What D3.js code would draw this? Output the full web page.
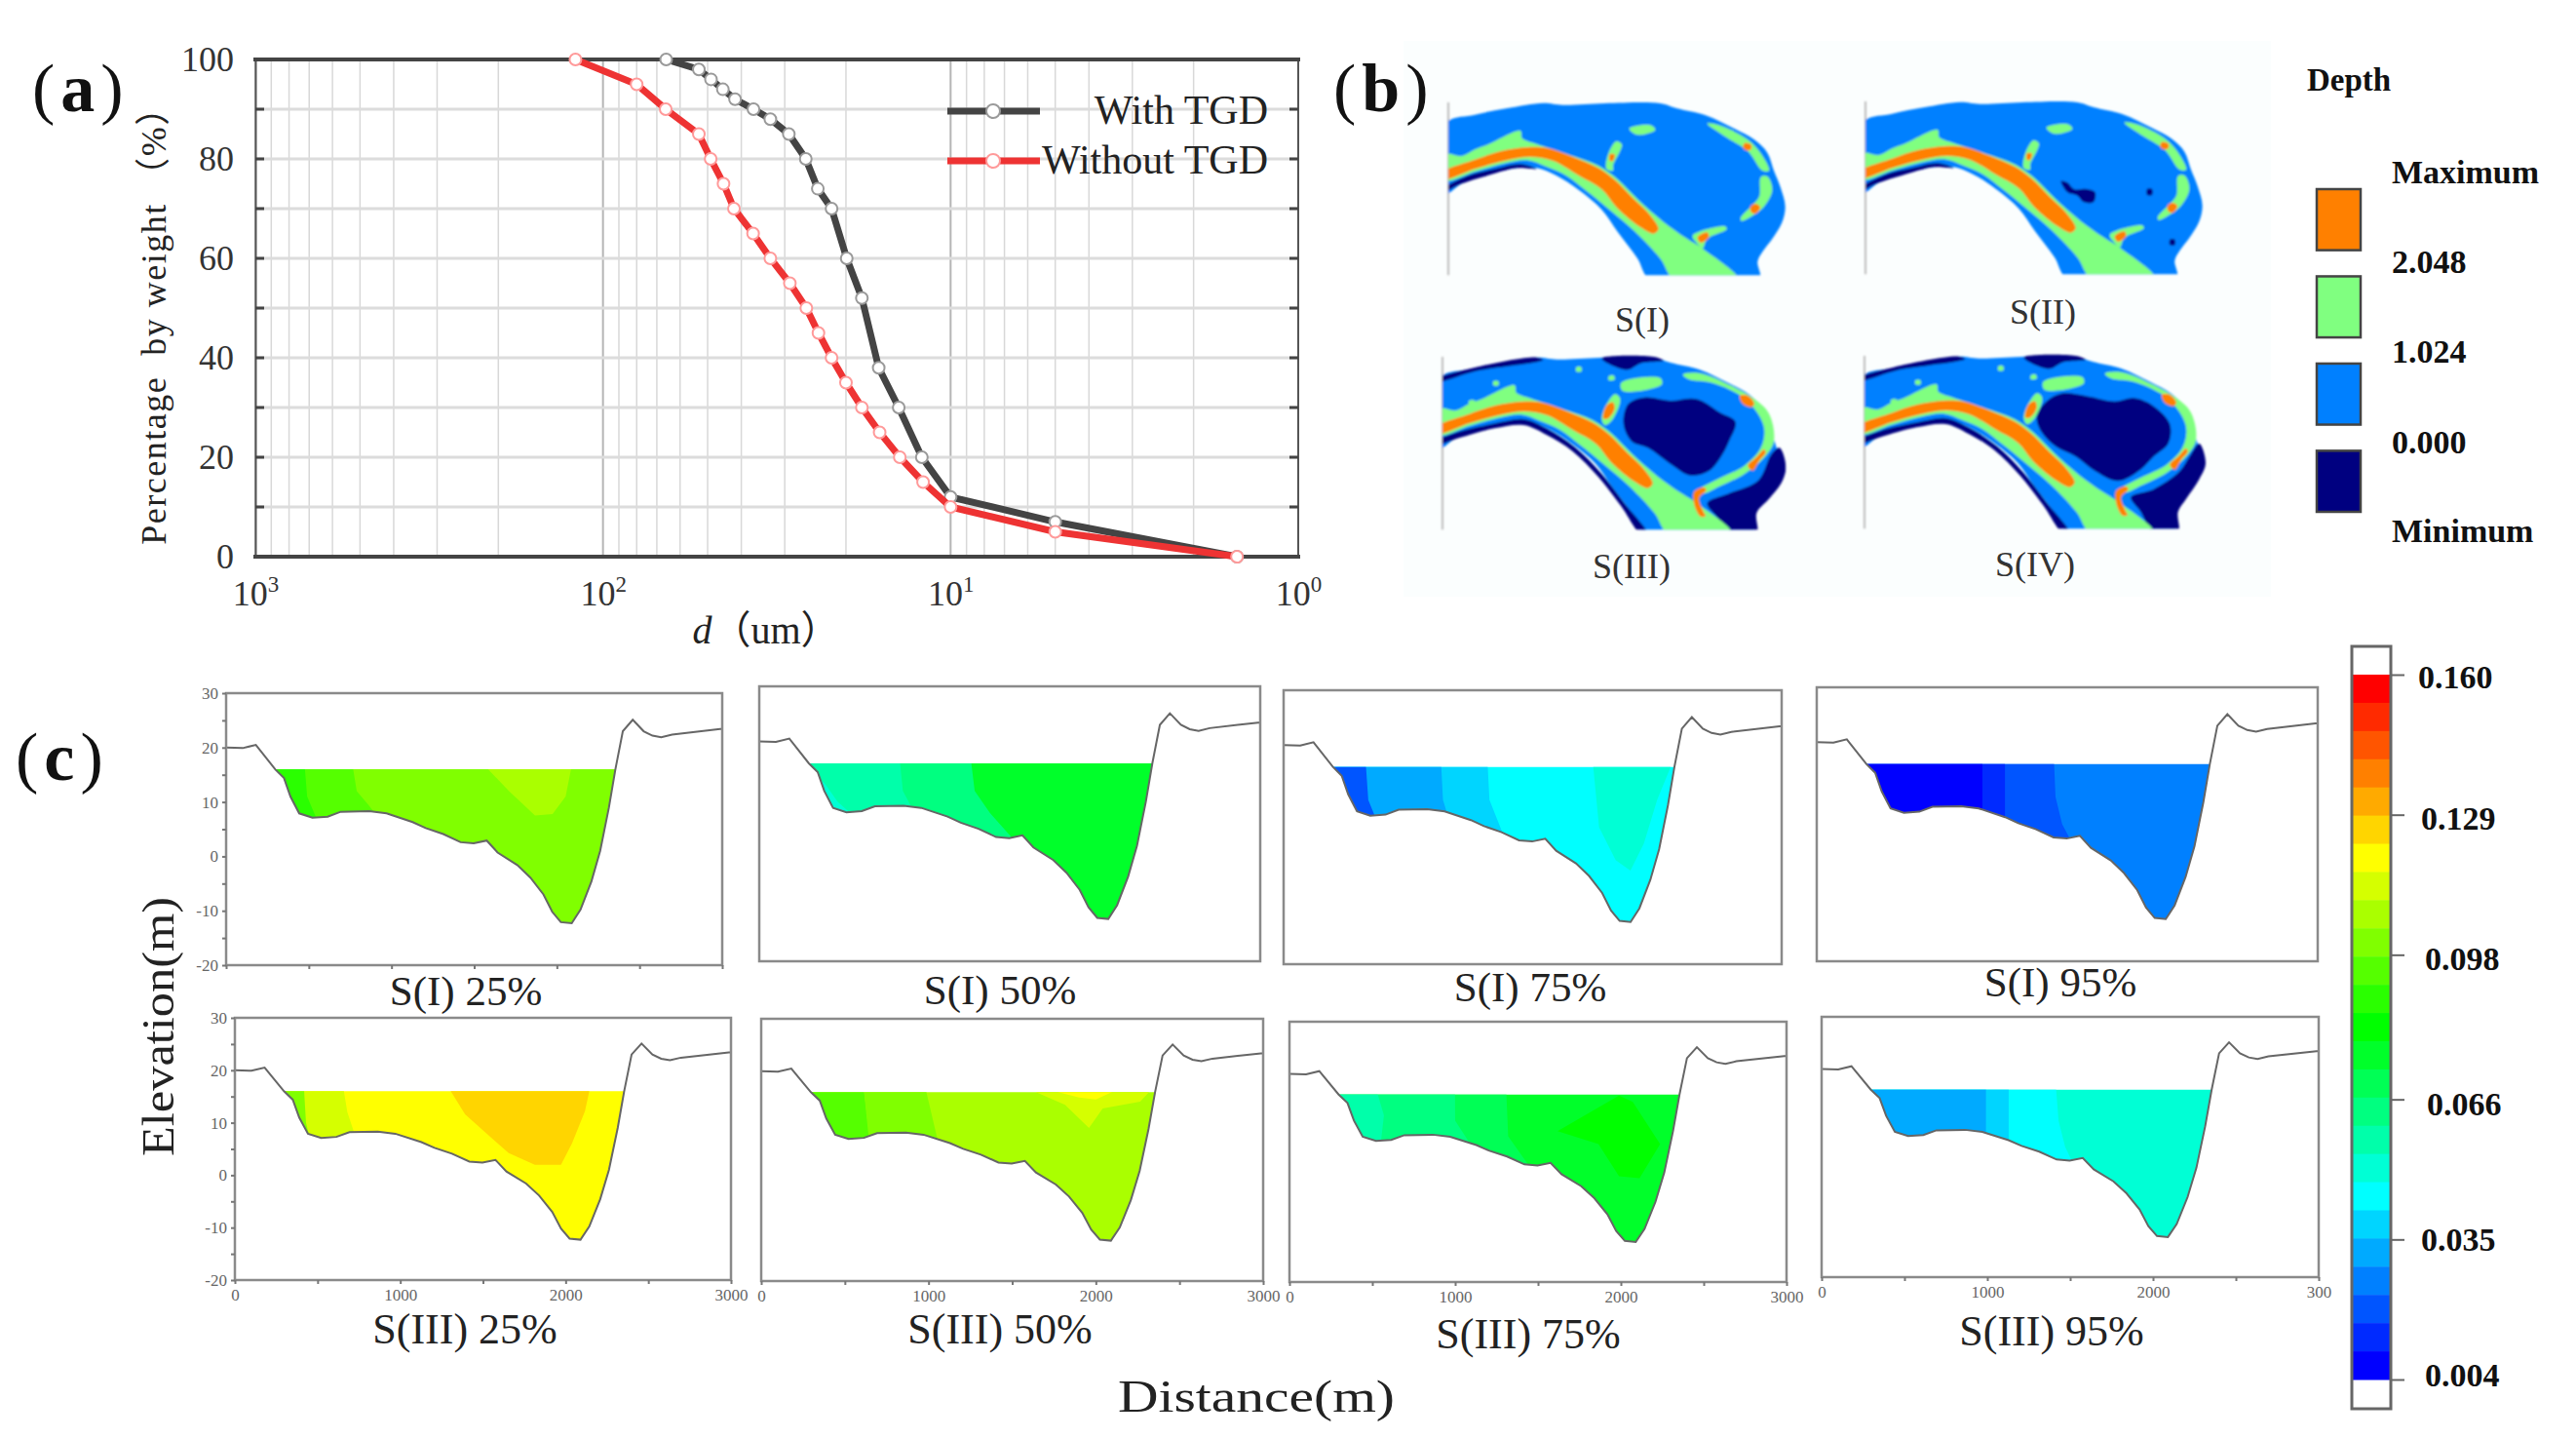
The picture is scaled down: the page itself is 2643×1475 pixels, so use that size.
<!DOCTYPE html>
<html>
<head>
<meta charset="utf-8">
<script src="https://cdn.jsdelivr.net/npm/d3@7"></script>
<style>
  html, body { margin: 0; padding: 0; background: #fff; }
  svg { display: block; }
  text { font-family: "Liberation Serif", "Noto Sans CJK SC", serif; }
</style>
</head>
<body>
<svg width="2643" height="1475" viewBox="0 0 2643 1475"></svg>
<script>
// ---- (a) grading curves: [d in um, percentage]
const withTGD = [[65.8,100],[53,98],[48.9,96],[45.2,94],[41.7,92],[36.9,90],[33,88],[29.2,85],[26.1,80],[24.1,74],[22,70],[19.9,60],[18,52],[16.1,38],[14.1,30],[12.1,20],[10,12],[5,7],[1.5,0]];
const withoutTGD = [[120,100],[80,95],[66,90],[53,85],[49,80],[45,75],[42,70],[37,65],[33,60],[29,55],[26,50],[24,45],[22,40],[20,35],[18,30],[16,25],[14,20],[12,15],[10,10],[5,5],[1.5,0]];
const percentTicks = [0,20,40,60,80,100];
const percentGrid = [10,20,30,40,50,60,70,80,90];
const decadeTicks = [1000,100,10,1];
const decadeExp = ['3','2','1','0'];
const legendNames = ['With TGD','Without TGD'];

// ---- (b) depth maps, outlines in map units (0-1080 x 0-585)
const riverOutline = [[10,95],[100,68],[200,48],[310,32],[370,38],[500,33],[670,33],[720,48],[810,70],[900,112],[960,145],[1000,185],[1020,240],[1040,290],[1055,350],[1045,400],[1015,450],[985,490],[970,520],[975,575],[640,575],[600,510],[540,430],[490,360],[420,300],[350,255],[290,232],[230,232],[130,255],[60,280],[10,310]];
const mainGreen = [[5,190],[60,195],[100,175],[140,160],[240,118],[245,140],[290,158],[380,188],[480,225],[540,268],[600,328],[680,398],[750,448],[800,480],[910,575],[715,575],[670,510],[590,425],[520,365],[440,300],[380,255],[320,228],[260,208],[190,218],[100,243],[5,270]];
const mainOrange = [[5,244],[100,206],[180,180],[260,168],[320,170],[400,197],[480,232],[530,268],[580,318],[640,378],[665,420],[650,434],[610,415],[540,358],[490,298],[420,256],[340,210],[270,198],[190,210],[100,235],[5,266]];
const bankStrip = [[10,292],[80,255],[160,235],[240,220],[290,235],[230,232],[130,258],[60,280],[10,302]];
const barsGreen = [
  [[575,110],[640,100],[655,115],[600,130]],
  [[535,150],[552,160],[525,225],[525,240],[505,235],[510,190]],
  [[815,95],[850,100],[940,145],[985,195],[1005,240],[985,240],[940,180],[870,135]],
  [[980,260],[1000,258],[1015,300],[990,350],[960,375],[920,395],[918,385],[950,350],[975,320]],
  [[770,440],[870,412],[875,420],[815,450],[800,480],[780,460]]
];
const barsOrange = [
  [[515,190],[530,190],[525,210],[515,210]],
  [[930,155],[950,160],[950,175],[935,178],[925,168]],
  [[948,350],[965,342],[978,352],[965,372],[950,368]],
  [[785,445],[815,430],[820,445],[795,462]]
];
const holesII = [
  [[620,275],[640,280],[660,300],[700,300],[725,310],[720,340],[690,340],[670,320],[640,310]],
  [[885,300],[900,300],[900,318],[885,318]],
  [[955,455],[970,455],[970,472],[955,472]]
];
const arcGreen = [[758,85],[808,80],[908,120],[978,160],[1023,205],[1038,290],[1008,340],[948,390],[868,430],[823,450],[808,440],[868,405],[948,365],[998,310],[1008,250],[978,190],[928,145],[848,110],[778,100]];
const poolIII = [[575,235],[590,175],[640,155],[720,165],[800,160],[870,200],[920,230],[900,290],[880,330],[840,380],[780,395],[720,360],[650,310],[600,290]];
const cornerIII = [[833,480],[900,450],[990,410],[1030,330],[1055,310],[1075,370],[1060,420],[1020,470],[985,510],[985,575],[920,575],[860,520]];
const poolIV = [[548,215],[578,170],[628,145],[708,155],[788,170],[848,160],[908,185],[958,240],[953,300],[908,340],[868,380],[798,415],[728,385],[668,340],[608,310],[563,265]];
const cornerIV = [[838,465],[908,440],[988,385],[1018,340],[1048,300],[1068,360],[1048,410],[1008,470],[983,510],[983,575],[908,575],[868,510]];
const topNavy = [[508,35],[668,30],[698,42],[628,50],[588,70],[548,60]];
const topStrip = [[10,95],[108,65],[308,32],[328,40],[118,75],[10,105]];
const lowBank = [[10,285],[68,260],[178,235],[268,222],[338,250],[428,310],[508,390],[578,480],[650,575],[628,575],[568,490],[498,400],[418,320],[338,270],[268,240],[178,250],[68,280],[10,298]];
const trioOrange = [
  [[933,150],[958,150],[978,175],[968,185],[943,175]],
  [[958,365],[983,340],[1008,315],[1013,325],[993,350],[973,380]],
  [[793,445],[823,432],[830,440],[808,465],[823,510],[828,520],[813,522],[793,485]],
  [[523,180],[543,170],[548,190],[528,220],[513,220]]
];
const extraGreen = [
  [[568,110],[688,95],[693,115],[573,135]],
  [[530,165],[550,145],[565,160],[540,225],[518,240],[508,220]],
  [[430,62],[445,62],[445,75],[430,75]],
  [[530,90],[545,88],[548,100],[530,102]],
  [[175,105],[190,105],[190,118],[175,118]],
  [[100,165],[118,165],[118,178],[100,178]]
];
const mapNames = ['S(I)','S(II)','S(III)','S(IV)'];
const depthNames = ['Maximum','2.048','1.024','0.000','Minimum'];
const depthColors = ['#ff8000','#80ff80','#0080ff','#000080'];

// ---- (c) river section shared by the eight panels: [distance, elevation]
const bedProfile = [[0,20],[100,19.9],[180,20.5],[297,16],[350,14.4],[389,11],[442,7.9],[522,7.1],[614,7.3],[693,8.2],[865,8.3],[970,7.9],[1128,6.3],[1207,5.2],[1313,4.1],[1418,2.6],[1497,2.4],[1576,2.9],[1642,0.7],[1761,-1.6],[1840,-3.9],[1919,-7],[1972,-10.2],[2024,-12.1],[2090,-12.3],[2143,-9.8],[2209,-4.6],[2262,1],[2315,9],[2354,16],[2399,23],[2459,25.1],[2525,23],[2578,22.2],[2631,21.9],[2697,22.4],[2987,23.4],[3000,23.4]];
const waterLevel = 16;
const sectionNames = ['S(I) 25%','S(I) 50%','S(I) 75%','S(I) 95%','S(III) 25%','S(III) 50%','S(III) 75%','S(III) 95%'];
const concentrationBands = ['#ff0000','#ff2a00','#ff5500','#ff8000','#ffaa00','#ffd500','#ffff00','#d5ff00','#aaff00','#80ff00','#55ff00','#2aff00','#00ff00','#00ff2a','#00ff55','#00ff80','#00ffaa','#00ffd5','#00ffff','#00d5ff','#00aaff','#0080ff','#0055ff','#002aff','#0000ff'];
const concentrationTicks = [0.004,0.035,0.066,0.098,0.129,0.160];
const concentrationLabels = ['0.004','0.035','0.066','0.098','0.129','0.160'];
const sectionBase = [9,13,18,21,6,8,13,17];
// contour patches: band index and outline in [distance, elevation], clipped to the water
const sectionZones = [
  [
    {band:10, pts:[[250,17],[763,17],[790,12],[860,9.5],[950,6],[250,4]]},
    {band:11, pts:[[250,17],[474,17],[490,11],[560,6],[250,4]]},
    {band:8, pts:[[1553,17],[1711,12],[1868,7.5],[1974,7.8],[2053,11],[2092,17]]}
  ],
  [
    {band:15, pts:[[250,17],[1266,17],[1290,11],[1381,7],[1586,0],[1400,-5],[250,-5]]},
    {band:16, pts:[[250,17],[840,17],[860,11],[930,7],[250,4]]},
    {band:17, pts:[[250,17],[400,12],[470,9],[580,6],[250,4]]}
  ],
  [
    {band:19, pts:[[250,17],[1228,17],[1240,10],[1318,4],[1300,-2],[250,-2]]},
    {band:20, pts:[[250,17],[948,17],[960,10],[990,7],[250,2]]},
    {band:22, pts:[[250,17],[494,17],[510,10],[577,5],[250,3]]},
    {band:17, pts:[[1862,17],[1900,5],[2000,-1],[2089,-2.9],[2170,2],[2250,10],[2345,17]]}
  ],
  [
    {band:22, pts:[[250,17],[1420,17],[1430,10],[1470,5],[1540,1],[250,1]]},
    {band:23, pts:[[250,17],[1127,17],[1127,4],[250,4]]},
    {band:24, pts:[[250,17],[992,17],[992,4],[250,4]]}
  ],
  [
    {band:7, pts:[[250,17],[654,17],[680,12],[733,7],[250,4]]},
    {band:9, pts:[[250,17],[417,17],[430,10],[460,6],[250,4]]},
    {band:5, pts:[[1286,17],[1392,11.6],[1524,7.9],[1656,4.2],[1814,2],[1972,2],[2038,6],[2117,12.2],[2150,17]]}
  ],
  [
    {band:10, pts:[[250,17],[612,17],[653,6],[250,4]]},
    {band:9, pts:[[612,17],[980,17],[1061,6],[653,4]]},
    {band:7, pts:[[1571,17],[1816,13.6],[1959,9.2],[2041,12.9],[2265,14.2],[2347,17]]},
    {band:6, pts:[[1653,17],[1900,15],[2000,14.6],[2163,17]]}
  ],
  [
    {band:14, pts:[[250,17],[1308,17],[1320,8],[1453,2],[1000,2],[250,2]]},
    {band:15, pts:[[250,17],[999,17],[1000,11],[1122,5],[900,5],[250,5]]},
    {band:16, pts:[[250,17],[524,17],[570,12],[545,5],[250,5]]},
    {band:12, pts:[[1618,9],[1865,6.5],[1989,0.3],[2113,-0.05],[2237,6.5],[2072,14.6],[1989,15.8]]}
  ],
  [
    {band:18, pts:[[250,17],[1413,17],[1430,10],[1470,5],[1530,1],[250,1]]},
    {band:19, pts:[[250,17],[1129,17],[1129,4],[250,4]]},
    {band:20, pts:[[250,17],[992,17],[992,4],[250,4]]}
  ]
];

// ---- Layout (page pixels)
const sectionFrames = [
  [232,741,711,990],[779,1293,704,986],[1317,1828,708,989],[1864,2378,705,986],
  [241,750,1044,1313],[781,1296,1045,1314],[1323,1833,1048,1315],[1869,2379,1043,1310]
];
const sectionTitleAt = [[478,1031],[1026,1030],[1570,1027],[2114,1022],[477,1378],[1026,1378],[1568,1383],[2105,1380]];
const sectionLastTick = ['3000','3000','3000','3000','3000','3000','3000','300'];
const mapOrigin = [[1480,95],[1908,94],[1474,356],[1907,355]];
const mapTitleAt = [[1685,340],[2096,332],[1674,593],[2088,591]];

const svg = d3.select('svg');

// background of panel (b) goes under everything else
svg.append('rect').attr('x', 1440).attr('y', 42).attr('width', 890).attr('height', 570).attr('fill', '#fbfefe');

// ---- Panel letters
function panelLetter(letter, x, y) {
    const t = svg.append('text').attr('x', x).attr('y', y).attr('font-size', 70).attr('fill', '#111');
    t.append('tspan').attr('font-weight', 300).text('(');
    t.append('tspan').attr('font-weight', 'bold').attr('dx', 6).text(letter);
    t.append('tspan').attr('dx', 6).text(')');
}
panelLetter('a', 33, 114);
panelLetter('b', 1368, 114);
panelLetter('c', 16, 800);

// ---- Panel (a)
const aLeft = 262, aRight = 1332, aTop = 61, aBottom = 571;
const mapX = d3.scaleLog().domain([1000, 1]).range([aLeft, aRight]);
const mapY = d3.scaleLinear().domain([0, 100]).range([aBottom, aTop]);
const a = svg.append('g');

// grid: minor verticals at 2..9 of each decade
const minorX = [];
[100, 10, 1].forEach(dec => d3.range(2, 10).forEach(k => minorX.push(dec * k)));
a.selectAll('.minor').data(minorX).join('line')
    .attr('x1', d => mapX(d)).attr('x2', d => mapX(d))
    .attr('y1', aTop).attr('y2', aBottom)
    .attr('stroke', '#d8d8d8').attr('stroke-width', 1.5);
a.selectAll('.major').data(decadeTicks).join('line')
    .attr('x1', d => mapX(d)).attr('x2', d => mapX(d))
    .attr('y1', aTop).attr('y2', aBottom)
    .attr('stroke', '#b5b5b5').attr('stroke-width', 2);
a.selectAll('.hgrid').data(percentGrid).join('line')
    .attr('x1', aLeft).attr('x2', aRight)
    .attr('y1', d => mapY(d)).attr('y2', d => mapY(d))
    .attr('stroke', '#dcdcdc').attr('stroke-width', 3);

// axes
const axisA = a.append('g').attr('transform', `translate(${aLeft},0)`)
    .call(d3.axisLeft(mapY).tickValues(percentTicks).tickSize(0).tickPadding(22));
axisA.select('.domain').attr('stroke', '#555').attr('stroke-width', 2);
axisA.selectAll('text').attr('font-size', 36).attr('fill', '#333').style('font-family', '"Liberation Serif"');

const axisB = a.append('g').attr('transform', `translate(0,${aBottom})`)
    .call(d3.axisBottom(mapX).tickValues(decadeTicks).tickFormat(() => '10').tickSize(0).tickPadding(24));
axisB.select('.domain').attr('stroke', 'none');
axisB.selectAll('text').attr('font-size', 36).attr('fill', '#333').style('font-family', '"Liberation Serif"')
    .append('tspan').attr('font-size', 23).attr('dy', -14).text((d, i) => decadeExp[i]);

a.append('line').attr('x1', aRight).attr('x2', aRight).attr('y1', aTop).attr('y2', aBottom).attr('stroke', '#555').attr('stroke-width', 2);
[aTop, aBottom].forEach(y => a.append('line').attr('x1', aLeft - 2).attr('x2', aRight + 2).attr('y1', y).attr('y2', y).attr('stroke', '#444').attr('stroke-width', 4));
a.selectAll('.tickR').data(percentGrid).join('line')
    .attr('x1', aRight - 9).attr('x2', aRight).attr('y1', d => mapY(d)).attr('y2', d => mapY(d))
    .attr('stroke', '#444').attr('stroke-width', 3);
a.selectAll('.tickL').data(percentGrid).join('line')
    .attr('x1', aLeft).attr('x2', aLeft + 9).attr('y1', d => mapY(d)).attr('y2', d => mapY(d))
    .attr('stroke', '#444').attr('stroke-width', 3);

// curves
const curve = d3.line().x(d => mapX(d[0])).y(d => mapY(d[1]));
[[withTGD, '#444444', '#9a9a9a'], [withoutTGD, '#ee3333', '#ff9a9a']].forEach(([rows, col, ring]) => {
    a.append('path').attr('d', curve(rows)).attr('fill', 'none').attr('stroke', col).attr('stroke-width', 7);
    a.append('g').selectAll('circle').data(rows).join('circle')
        .attr('cx', d => mapX(d[0])).attr('cy', d => mapY(d[1])).attr('r', 6)
        .attr('fill', '#fff').attr('stroke', ring).attr('stroke-width', 2);
});

// legend
[[114, '#444444', '#9a9a9a'], [165, '#ee3333', '#ff9a9a']].forEach(([y, col, ring], i) => {
    a.append('line').attr('x1', 972).attr('x2', 1067).attr('y1', y).attr('y2', y).attr('stroke', col).attr('stroke-width', 7);
    a.append('circle').attr('cx', 1019).attr('cy', y).attr('r', 7).attr('fill', '#fff').attr('stroke', ring).attr('stroke-width', 2);
    a.append('text').attr('x', 1301).attr('y', y + 13).attr('text-anchor', 'end').attr('font-size', 42).attr('fill', '#222').text(legendNames[i]);
});

// axis titles
const dTitle = a.append('text').attr('x', 786).attr('y', 660).attr('text-anchor', 'middle').attr('font-size', 40).attr('fill', '#222');
dTitle.append('tspan').attr('font-style', 'italic').text('d');
dTitle.append('tspan').text('（um）');
a.append('text').attr('transform', 'translate(170,325) rotate(-90)').attr('text-anchor', 'middle')
    .attr('font-size', 36).attr('fill', '#222').style('white-space', 'pre').attr('letter-spacing', 1.5)
    .text('Percentage  by weight （%）');

// ---- Panel (b)
const defs = svg.append('defs');
defs.append('filter').attr('id', 'soft').append('feGaussianBlur').attr('stdDeviation', 0.9);

function drawMap(i, layers) {
    const [ox, oy] = mapOrigin[i];
    const sx = d3.scaleLinear().domain([0, 1080]).range([ox, ox + 360]);
    const sy = d3.scaleLinear().domain([0, 585]).range([oy, oy + 195]);
    const path = d3.line().x(d => sx(d[0])).y(d => sy(d[1])).curve(d3.curveCatmullRomClosed.alpha(0.5));
    defs.append('clipPath').attr('id', `mapClip${i}`).append('rect')
        .attr('x', sx(18)).attr('y', sy(20)).attr('width', sx(1075) - sx(18)).attr('height', sy(562) - sy(20));
    const g = svg.append('g').attr('filter', 'url(#soft)');
    g.append('line').attr('x1', sx(18)).attr('x2', sx(18)).attr('y1', sy(30)).attr('y2', sy(562)).attr('stroke', '#bbb').attr('stroke-width', 2);
    const inner = g.append('g').attr('clip-path', `url(#mapClip${i})`);
    layers.forEach(([shapes, col]) => {
        inner.append('g').selectAll('path').data(shapes).join('path').attr('d', d => path(d)).attr('fill', col);
    });
    svg.append('text').attr('x', mapTitleAt[i][0]).attr('y', mapTitleAt[i][1]).attr('text-anchor', 'middle')
        .attr('font-size', 36).attr('fill', '#333').text(mapNames[i]);
}
const [deep, shoal, mid, dry] = depthColors;
drawMap(0, [[[riverOutline], mid], [[mainGreen], shoal], [barsGreen, shoal], [[mainOrange], deep], [barsOrange, deep], [[bankStrip], dry]]);
drawMap(1, [[[riverOutline], mid], [[mainGreen], shoal], [barsGreen, shoal], [[mainOrange], deep], [barsOrange, deep], [[bankStrip], dry], [holesII, dry]]);
drawMap(2, [[[riverOutline], mid], [[cornerIII, poolIII, topNavy, topStrip, lowBank], dry], [[mainGreen, arcGreen], shoal], [extraGreen, shoal], [[mainOrange], deep], [trioOrange, deep]]);
drawMap(3, [[[riverOutline], mid], [[cornerIV, poolIV, topNavy, topStrip, lowBank], dry], [[mainGreen, arcGreen], shoal], [extraGreen, shoal], [[mainOrange], deep], [trioOrange, deep]]);

// depth legend
svg.append('text').attr('x', 2367).attr('y', 93).attr('font-size', 33).attr('font-weight', 'bold').attr('fill', '#111').text('Depth');
const swatchY = d3.scaleBand().domain(depthColors).range([194, 525]).paddingInner(0.3);
svg.append('g').selectAll('rect').data(depthColors).join('rect')
    .attr('x', 2377).attr('width', 45).attr('y', d => swatchY(d)).attr('height', swatchY.bandwidth())
    .attr('fill', d => d).attr('stroke', '#444').attr('stroke-width', 2.5);
const depthTextY = [188, 280, 372, 465, 556];
svg.append('g').selectAll('text').data(depthNames).join('text')
    .attr('x', 2454).attr('y', (d, i) => depthTextY[i]).attr('font-size', 34).attr('font-weight', 'bold').attr('fill', '#111').text(d => d);

// ---- Panel (c)
const wetBed = bedProfile.filter(d => d[1] <= waterLevel);

sectionNames.forEach((name, i) => {
    const [x0, x1, y0, y1] = sectionFrames[i];
    const sx = d3.scaleLinear().domain([0, 3000]).range([x0, x1]);
    const sy = d3.scaleLinear().domain([-20, 30]).range([y1, y0]);
    const line = d3.line().x(d => sx(d[0])).y(d => sy(d[1]));
    const g = svg.append('g');

    g.append('clipPath').attr('id', `water${i}`).append('path').attr('d', line(wetBed) + 'Z');
    const water = g.append('g').attr('clip-path', `url(#water${i})`);
    water.append('rect').attr('x', x0).attr('y', y0).attr('width', x1 - x0).attr('height', y1 - y0)
        .attr('fill', concentrationBands[sectionBase[i]]);
    water.selectAll('path').data(sectionZones[i]).join('path')
        .attr('d', d => line(d.pts) + 'Z').attr('fill', d => concentrationBands[d.band]);

    g.append('path').attr('d', line(bedProfile)).attr('fill', 'none').attr('stroke', '#666').attr('stroke-width', 2);
    g.append('rect').attr('x', x0).attr('y', y0).attr('width', x1 - x0).attr('height', y1 - y0)
        .attr('fill', 'none').attr('stroke', '#8a8a8a').attr('stroke-width', 2.5);

    // y axis only on the left column
    if (i % 4 === 0) {
        const yAxis = g.append('g').attr('transform', `translate(${x0},0)`)
            .call(d3.axisLeft(sy).tickValues(d3.range(-20, 31, 5)).tickSize(4).tickPadding(4)
                .tickFormat(d => d % 10 === 0 ? d : ''));
        yAxis.select('.domain').remove();
        yAxis.selectAll('line').attr('stroke', '#777').attr('stroke-width', 2);
        yAxis.selectAll('text').attr('font-size', 17).attr('fill', '#666').style('font-family', '"Liberation Serif"');
    }
    // x ticks on the first panel and along the bottom row
    if (i === 0 || i >= 4) {
        const xAxis = g.append('g').attr('transform', `translate(0,${y1})`)
            .call(d3.axisBottom(sx).tickValues(d3.range(0, 3001, 500)).tickSize(4).tickPadding(5)
                .tickFormat(d => {
                    if (i < 4 || d % 1000 !== 0) return '';
                    return d === 3000 ? sectionLastTick[i] : d;
                }));
        xAxis.select('.domain').remove();
        xAxis.selectAll('line').attr('stroke', '#777').attr('stroke-width', 2);
        xAxis.selectAll('text').attr('font-size', 17).attr('fill', '#666').style('font-family', '"Liberation Serif"');
    }

    svg.append('text').attr('x', sectionTitleAt[i][0]).attr('y', sectionTitleAt[i][1]).attr('text-anchor', 'middle')
        .attr('font-size', i < 4 ? 43 : 44).attr('fill', '#222').text(name);
});

svg.append('text').attr('transform', 'translate(178,1053) rotate(-90)').attr('text-anchor', 'middle')
    .attr('font-size', 46).attr('fill', '#222').attr('textLength', 266).attr('lengthAdjust', 'spacingAndGlyphs').text('Elevation(m)');
svg.append('text').attr('x', 1289).attr('y', 1448).attr('text-anchor', 'middle')
    .attr('font-size', 47).attr('fill', '#222').attr('textLength', 284).attr('lengthAdjust', 'spacingAndGlyphs').text('Distance(m)');

// ---- Colour bar
const barX0 = 2413, barX1 = 2453, barTop = 692, barBottom = 1415;
const bandY = d3.scaleBand().domain(concentrationBands).range([barTop, barBottom]);
const tickY = d3.scaleLinear().domain([0.004, 0.160]).range([barBottom, barTop]);
svg.append('rect').attr('x', barX0).attr('y', 663).attr('width', barX1 - barX0).attr('height', 782).attr('fill', '#fff');
svg.append('g').selectAll('rect').data(concentrationBands).join('rect')
    .attr('x', barX0).attr('width', barX1 - barX0).attr('y', d => bandY(d)).attr('height', bandY.bandwidth() + 0.5)
    .attr('fill', d => d);
svg.append('rect').attr('x', barX0).attr('y', 663).attr('width', barX1 - barX0).attr('height', 782)
    .attr('fill', 'none').attr('stroke', '#666').attr('stroke-width', 3);
const labelNudgeX = [7, 3, 9, 7, 3, 0];
const labelNudgeY = [6, 11, 16, 15, 15, 13];
const barAxis = svg.append('g').attr('transform', `translate(${barX1},0)`)
    .call(d3.axisRight(tickY).tickValues(concentrationTicks).tickSize(14).tickPadding(14)
        .tickFormat((d, i) => concentrationLabels[i]));
barAxis.select('.domain').remove();
barAxis.selectAll('line').attr('stroke', '#666').attr('stroke-width', 2);
barAxis.selectAll('text').attr('font-size', 34).attr('font-weight', 'bold').attr('fill', '#111')
    .style('font-family', '"Liberation Serif"')
    .attr('dy', null)
    .attr('x', (d, i) => 28 + labelNudgeX[i])
    .attr('y', (d, i) => labelNudgeY[i]);
</script>
</body>
</html>
